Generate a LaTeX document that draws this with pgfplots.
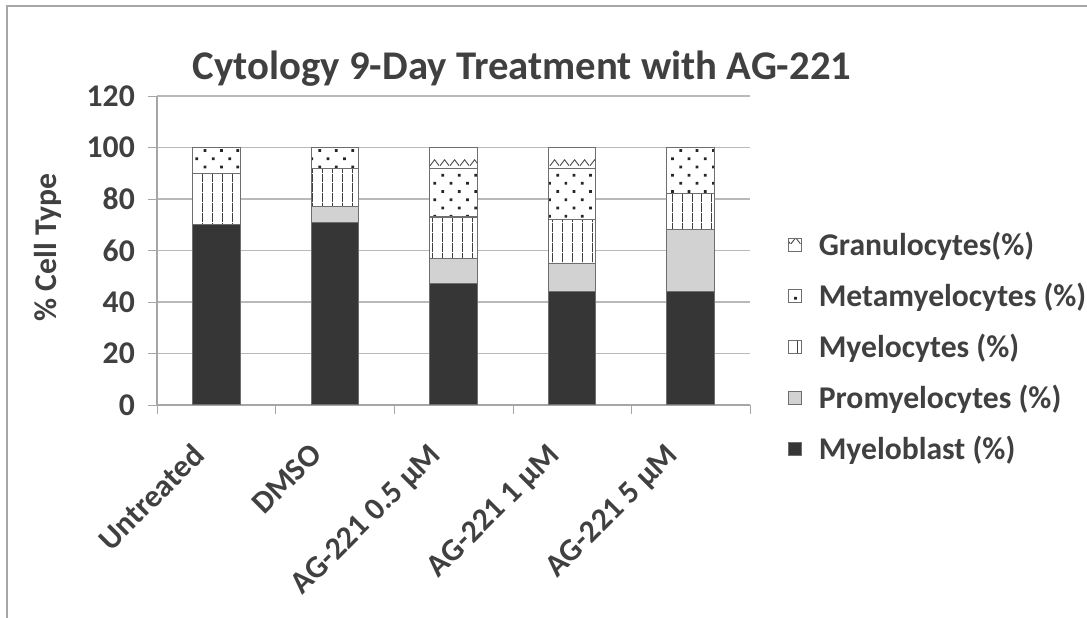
\documentclass[border=0pt]{standalone}
\usepackage{fontspec}
\setmainfont{Carlito}
\usepackage{pgfplots}
\pgfplotsset{compat=1.18}
\usetikzlibrary{patterns,patterns.meta}

\definecolor{txt}{RGB}{64,64,64}
\definecolor{dark}{RGB}{54,54,54}
\definecolor{light}{RGB}{210,210,210}
\definecolor{edge}{RGB}{110,110,110}

% wavy line for the granulocyte segments
\pgfdeclarepatternformonly{zigzag}{\pgfpointorigin}{\pgfqpoint{5.7pt}{11pt}}{\pgfqpoint{5.7pt}{11pt}}{%
  \pgfsetlinewidth{0.55pt}
  \pgfpathmoveto{\pgfqpoint{0pt}{4.8pt}}
  \pgfpathlineto{\pgfqpoint{2.85pt}{8.3pt}}
  \pgfpathlineto{\pgfqpoint{5.7pt}{4.8pt}}
  \pgfusepath{stroke}}

\pgfplotstableread{
x  myelo  promy  myelc  meta  gran
0  70     0      20     10    0
1  71     6      15     8     0
2  47     10     16     19    8
3  44     11     17     20    8
4  44     24     14     18    0
}\cyto

\begin{document}
\begin{tikzpicture}
\path[use as bounding box] (0,0) rectangle (21.74,12.36);
\draw[gray!70, line width=0.6pt] (0.14,0) -- (0.14,12.24) -- (21.74,12.24);
\node[font=\bfseries\fontsize{23.2}{27}\selectfont, text=txt] at (10.44,10.98) {Cytology 9-Day Treatment with AG-221};

\begin{axis}[
    at={(3.14cm,4.26cm)}, anchor=south west,
    scale only axis,
    width=11.86cm, height=6.18cm,
    ybar stacked, bar width=0.954cm,
    xmin=-0.5, xmax=4.5,
    ymin=0, ymax=120,
    ytick={0,20,...,120},
    xtick={0,...,4},
    xticklabels={Untreated, DMSO, AG-221 0.5 µM, AG-221 1 µM, AG-221 5 µM},
    minor xtick={-0.5,0.5,...,4.5},
    major x tick style={draw=none},
    minor x tick style={draw=gray!70},
    minor tick length=0.18cm,
    major tick length=0.18cm,
    tick align=outside,
    axis x line*=bottom, axis y line*=left,
    axis line style={draw=gray!70, line width=0.6pt},
    ytick style={draw=gray!70},
    ymajorgrids, grid style={gray!55, line width=0.6pt},
    /pgf/number format/assume math mode=true,
    tick label style={font=\bfseries\fontsize{18}{20}\selectfont, text=txt},
    y tick label style={xshift=-0.14cm},
    x tick label style={xshift=-0.52cm, yshift=-0.38cm, rotate=45, anchor=north east},
    ylabel={\% Cell Type},
    ylabel style={at={(axis description cs:-0.184,0.51)}, anchor=center, font=\bfseries\fontsize{18}{20}\selectfont, text=txt},
    every axis plot/.append style={draw=edge, line width=0.6pt},
    legend image code/.code={\draw[#1] (0cm,-0.13cm) rectangle (0.26cm,0.13cm); \path (0.52cm,0cm);},
    reverse legend,
    legend style={at={(1.055,0.585)}, anchor=north west, draw=none, fill=none,
        font=\bfseries\fontsize{18}{20}\selectfont, text=txt,
        row sep=0.36cm, legend cell align=left},
]
\addplot[fill=dark] table[x=x, y=myelo] {\cyto};
\addplot[fill=light] table[x=x, y=promy] {\cyto};
\addplot[fill=white, postaction={pattern={Lines[angle=90,distance=5.4pt,line width=0.5pt]}, pattern color=black!75}] table[x=x, y=myelc] {\cyto};
\addplot[fill=white, postaction={pattern={Dots[angle=45,distance=6.6pt,radius=1.1pt]}, pattern color=black!85}] table[x=x, y=meta] {\cyto};
\addplot[fill=white, postaction={pattern=zigzag, pattern color=black!70}] table[x=x, y=gran] {\cyto};
\legend{Myeloblast (\%), Promyelocytes (\%), Myelocytes (\%), Metamyelocytes (\%), Granulocytes(\%)}
\end{axis}
\end{tikzpicture}
\end{document}
